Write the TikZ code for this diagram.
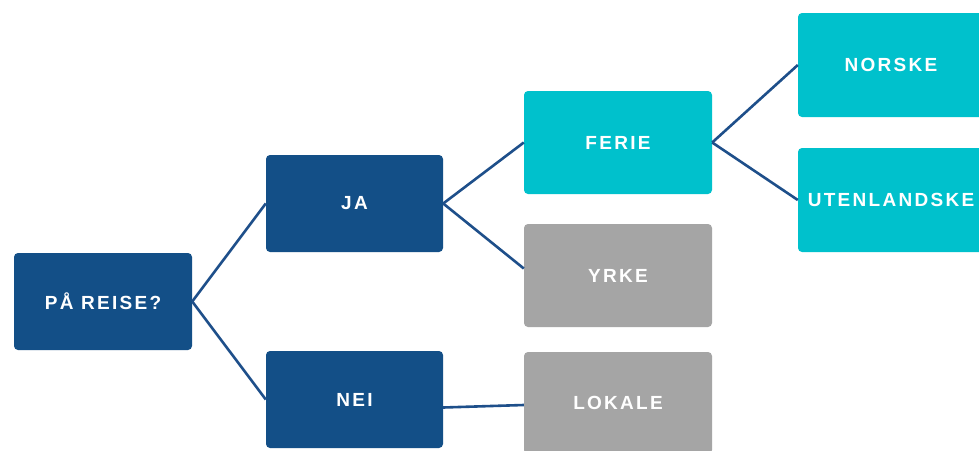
\documentclass[tikz,border=0pt]{standalone}
\usepackage{fontspec}
\setmainfont{Liberation Sans}
\newfontfamily\boxfont[LetterSpace=12]{Liberation Sans}
\definecolor{navy}{HTML}{134F87}
\definecolor{teal}{HTML}{00C1CC}
\definecolor{stone}{HTML}{A5A5A5}
\definecolor{wire}{HTML}{1E4F8A}
\tikzset{
  box/.style={rectangle, rounded corners=4pt, inner sep=0pt,
    font=\boxfont\bfseries\fontsize{19}{21}\selectfont, text=white},
  level1/.style={box, fill=navy, minimum width=177pt, minimum height=97pt},
  hot/.style={box, fill=teal, minimum width=188pt, minimum height=103pt},
  cold/.style={box, fill=stone, minimum width=188pt, minimum height=103pt},
  leaf/.style={box, fill=teal, minimum width=186pt, minimum height=104pt},
  link/.style={draw=wire, line width=2.6pt}
}
\begin{document}
\begin{tikzpicture}[x=1pt,y=-1pt]
\useasboundingbox (0,0) rectangle (979,450);
\clip (0,0) rectangle (979,450);
\fill[white] (0,0) rectangle (979,450);

\node[level1, minimum width=178pt] (reise) at (103,301.5) {PÅ REISE?};
\node[level1] (ja)  at (354.5,203.5) {JA};
\node[level1] (nei) at (354.5,399.5) {NEI};
\node[hot]  (ferie)  at (618,142.5) {FERIE};
\node[cold] (yrke)   at (618,275.5) {YRKE};
\node[cold, minimum height=102pt] (lokale) at (618,403) {LOKALE};
\node[leaf] (norske) at (891,65)  {NORSKE};
\node[leaf] (utland) at (891,200) {UTENLANDSKE};

\draw[link] (reise.east) -- (ja.west);
\draw[link] (reise.east) -- (nei.west);
\draw[link] (ja.east) -- (ferie.west);
\draw[link] (ja.east) -- ([yshift=7pt]yrke.west);
\draw[link] (ferie.east) -- (norske.west);
\draw[link] (ferie.east) -- (utland.west);
\draw[link] ([yshift=-8pt]nei.east) -- ([yshift=-2pt]lokale.west);
\end{tikzpicture}
\end{document}
